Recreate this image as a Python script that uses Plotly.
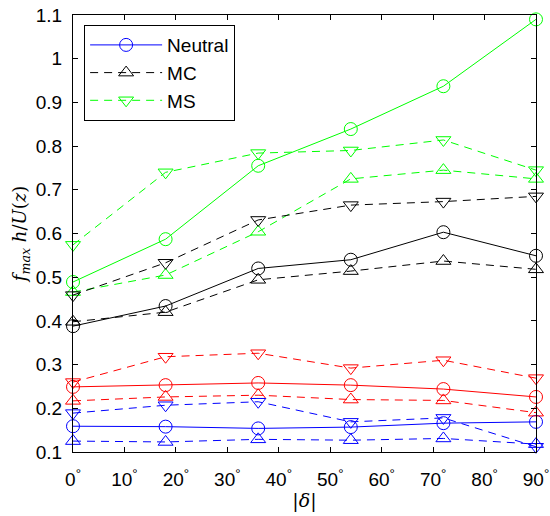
import plotly.graph_objects as go

# Wind direction |delta| in degrees
delta = [0, 18, 36, 54, 72, 90]

# Peak frequency f_max h / U(z), per colour group and stability case
blue_neutral = [0.159, 0.158, 0.154, 0.157, 0.166, 0.169]
blue_mc = [0.125, 0.123, 0.129, 0.127, 0.131, 0.118]
blue_ms = [0.189, 0.207, 0.215, 0.169, 0.178, 0.112]

red_neutral = [0.249, 0.253, 0.258, 0.253, 0.244, 0.226]
red_mc = [0.217, 0.226, 0.230, 0.220, 0.218, 0.190]
red_ms = [0.260, 0.318, 0.326, 0.292, 0.310, 0.269]

black_neutral = [0.388, 0.434, 0.520, 0.540, 0.603, 0.549]
black_mc = [0.398, 0.420, 0.494, 0.514, 0.537, 0.518]
black_ms = [0.459, 0.533, 0.631, 0.665, 0.673, 0.685]

green_neutral = [0.489, 0.587, 0.755, 0.839, 0.937, 1.090]
green_mc = [0.466, 0.505, 0.604, 0.725, 0.745, 0.725]
green_ms = [0.574, 0.740, 0.784, 0.790, 0.814, 0.745]

x_ticks = [0, 10, 20, 30, 40, 50, 60, 70, 80, 90]
x_ticklabels = [f"{v}<sup>°</sup>" for v in x_ticks]
y_ticks = [0.1, 0.2, 0.3, 0.4, 0.5, 0.6, 0.7, 0.8, 0.9, 1.0, 1.1]
y_ticklabels = ["0.1", "0.2", "0.3", "0.4", "0.5", "0.6", "0.7", "0.8", "0.9", "1", "1.1"]

colors = {"blue": "#0000ff", "red": "#ff0000", "black": "#000000", "green": "#00ff00"}
styles = {
    "Neutral": dict(dash="solid", symbol="circle-open"),
    "MC": dict(dash="8px,6px", symbol="triangle-up-open"),
    "MS": dict(dash="8px,6px", symbol="triangle-down-open"),
}

groups = [
    ("blue", {"Neutral": blue_neutral, "MC": blue_mc, "MS": blue_ms}),
    ("red", {"Neutral": red_neutral, "MC": red_mc, "MS": red_ms}),
    ("black", {"Neutral": black_neutral, "MC": black_mc, "MS": black_ms}),
    ("green", {"Neutral": green_neutral, "MC": green_mc, "MS": green_ms}),
]
legend_colour = {"Neutral": "blue", "MC": "black", "MS": "green"}

fig = go.Figure()
for case in ["Neutral", "MC", "MS"]:
    for cname, data in groups:
        st = styles[case]
        col = colors[cname]
        fig.add_trace(go.Scatter(
            x=delta, y=data[case], mode="lines+markers", name=case,
            showlegend=(legend_colour[case] == cname),
            legendrank={"Neutral": 1, "MC": 2, "MS": 3}[case],
            line=dict(color=col, width=1, dash=st["dash"]),
            marker=dict(symbol=st["symbol"], size=13, color=col,
                        line=dict(color=col, width=1)),
            cliponaxis=False,
        ))

sans = "Liberation Sans, Arial, sans-serif"
axis_font = dict(family=sans, size=19, color="black")
fig.update_layout(
    width=550, height=516,
    margin=dict(l=73, r=14, t=15, b=64, autoexpand=False),
    paper_bgcolor="white", plot_bgcolor="white",
    font=axis_font,
    showlegend=True,
    legend=dict(x=0.024, y=0.977, xanchor="left", yanchor="top",
                bordercolor="black", borderwidth=1, bgcolor="white",
                font=dict(family=sans, size=19, color="black"),
                itemwidth=72, tracegroupgap=0),
    xaxis=dict(range=[0, 90], tickvals=x_ticks, ticktext=x_ticklabels,
               ticks="inside", ticklen=5, tickcolor="black", mirror="ticks",
               showline=True, linecolor="black", linewidth=1, showgrid=False,
               zeroline=False, tickfont=axis_font, ticklabelstandoff=10,
               automargin=False,
               title=dict(text="|<i>δ</i>|", standoff=4,
                          font=dict(family="DejaVu Serif, serif", size=19))),
    yaxis=dict(range=[0.1, 1.1], tickvals=y_ticks, ticktext=y_ticklabels,
               ticks="inside", ticklen=5, tickcolor="black", mirror="ticks",
               showline=True, linecolor="black", linewidth=1, showgrid=False,
               zeroline=False, tickfont=axis_font, ticklabelstandoff=6,
               automargin=False,
               title=dict(text="<i>f</i><sub><i>max</i></sub> <i>h</i>/<i>U</i>(<i>z</i>)",
                          standoff=4,
                          font=dict(family="DejaVu Serif, serif", size=18))),
)

fig.write_html("out.html")
